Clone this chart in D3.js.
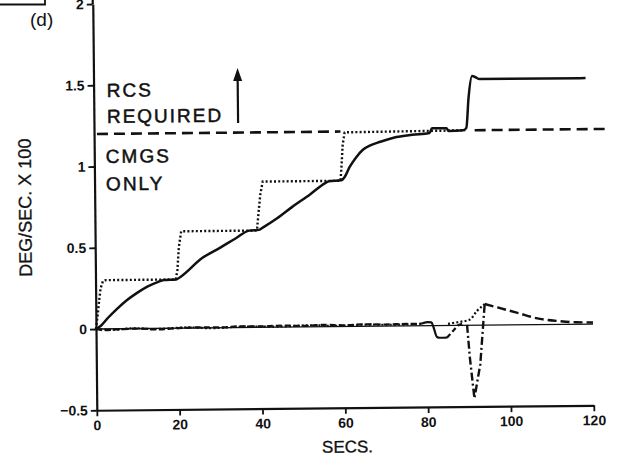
<!DOCTYPE html>
<html><head><meta charset="utf-8">
<script src="https://cdn.jsdelivr.net/npm/d3@7"></script>
<style>
body{margin:0;background:#fff}
svg{display:block;background:#fff}
text{font-family:"Liberation Sans",Arial,Helvetica,sans-serif;fill:#111}
</style>
</head><body>
<svg id="c" width="620" height="462"></svg>
<script>
// ---- data ----
const xTicks = [0, 20, 40, 60, 80, 100, 120];
const yTicks = [-0.5, 0, 0.5, 1, 1.5, 2];
const yTickLabels = ["\u22120.5", "0", "0.5", "1", "1.5", "2"];

// actual rate (solid)
const mainT = [0, 1.2, 3, 5, 7.5, 10, 12.5, 15, 16.5, 19.5, 20.5, 25.8, 30, 34, 37.2, 39.6, 40.6, 44, 47.6, 52, 55.7, 56.6, 59.6, 60.4, 61.6, 63.2, 64.8, 66.8, 68.9, 73, 76.8, 81, 81.6, 85.1, 85.6, 89.1, 89.9, 90.5, 91.4, 92.2, 93.2, 118.8];
const mainV = [0, 0.02, 0.07, 0.12, 0.175, 0.22, 0.258, 0.285, 0.297, 0.3, 0.315, 0.43, 0.49, 0.55, 0.596, 0.6, 0.615, 0.67, 0.738, 0.815, 0.884, 0.895, 0.9, 0.92, 0.98, 1.04, 1.085, 1.115, 1.133, 1.163, 1.176, 1.186, 1.214, 1.214, 1.197, 1.2, 1.215, 1.4, 1.534, 1.526, 1.515, 1.514];

// commanded rate steps (dotted)
const cmdT = [0, 0.4, 0.8, 1.2, 1.8, 2.5, 19.4, 19.8, 20.2, 20.8, 39.1, 39.5, 40.0, 40.6, 59.4, 59.7, 60.0, 60.5, 89.6];
const cmdV = [0, 0.08, 0.17, 0.25, 0.295, 0.3, 0.3, 0.36, 0.5, 0.596, 0.596, 0.7, 0.82, 0.897, 0.897, 1.0, 1.12, 1.195, 1.2];

// CMG limit line (dashed), two visible pieces
const limitV = 1.2;
const limitT1 = [0.7, 59.5];
const limitT2 = [91.9, 124.6];

// near-zero traces
const lowDashT = [0, 2, 5, 10, 15, 20, 25, 30, 35, 40, 45, 50, 55, 60, 65, 70, 75, 78.5];
const lowDashV = [0, -0.008, -0.004, 0, -0.006, 0, 0.004, 0.002, 0.008, 0.006, 0.01, 0.006, 0.012, 0.008, 0.012, 0.01, 0.012, 0.012];
const lowDotT = [0, 4, 9, 14, 22, 28, 36, 44, 52, 58, 64, 72, 79];
const lowDotV = [0, -0.006, 0.002, -0.004, 0.004, -0.002, 0.006, 0.004, 0.01, 0.004, 0.01, 0.008, 0.012];
const dipT = [78.5, 80, 81, 81.5, 82.3, 83, 84.7];
const dipV = [0.012, 0.022, 0.02, -0.01, -0.07, -0.075, -0.075];
const riseT = [84.7, 86, 87.4, 88.5];
const riseV = [-0.075, -0.04, 0, 0.01];
const accT = [85, 86.2, 88, 90.3, 92, 93.9];
const accV = [0.01, 0.015, 0.022, 0.035, 0.087, 0.13];
const spikeT = [89.6, 90.2, 91.2, 92.7, 93.9];
const spikeV = [0.003, -0.2, -0.45, -0.24, 0.13];
const decayT = [93.9, 97, 101.6, 107.2, 112, 116, 120];
const decayV = [0.13, 0.108, 0.075, 0.035, 0.02, 0.012, 0.01];

// ---- drawing ----
const svg = d3.select("#c");
const x = d3.scaleLinear().domain([0, 120]).range([96, 593]);
const y = d3.scaleLinear().domain([-0.5, 2]).range([410.25, 4]);
const line = d3.line().x(d => x(d[0])).y(d => y(d[1]));
const smooth = d3.line().x(d => x(d[0])).y(d => y(d[1])).curve(d3.curveMonotoneX);

// corner of the neighbouring panel + label
svg.append("path").attr("d", "M0,4.5H45V0").attr("fill", "none").attr("stroke", "#111").attr("stroke-width", 1.8);
svg.append("text").attr("x", 30).attr("y", 26).attr("font-size", 19).text("(d)");

const g = svg.append("g").attr("transform", "rotate(-0.57,96,329)");

// axes
const xAxis = d3.axisBottom(x).tickValues(xTicks).tickSize(6).tickSizeOuter(0).tickPadding(4);
const gx = g.append("g").attr("transform", `translate(0,${y(-0.5)})`).call(xAxis);
const yAxis = d3.axisLeft(y).tickValues(yTicks).tickFormat((d, i) => yTickLabels[i]).tickSize(6).tickSizeOuter(0).tickPadding(3);
const gy = g.append("g").attr("transform", `translate(${x(0)},0)`).call(yAxis);
[gx, gy].forEach(a => {
  a.select(".domain").attr("stroke", "#111").attr("stroke-width", 2.2);
  a.selectAll(".tick line").attr("stroke", "#111").attr("stroke-width", 1.8);
  a.selectAll(".tick text").attr("font-size", 14).attr("font-weight", "bold").attr("fill", "#111")
    .style("font-family", '"Liberation Sans",Arial,sans-serif');
});
g.append("line").attr("x1", x(0)).attr("x2", x(0)).attr("y1", y(2)).attr("y2", -4)
  .attr("stroke", "#111").attr("stroke-width", 2.2);

// zero reference line
g.append("path").datum([[0, 0], [120, 0]]).attr("d", line).attr("fill", "none").attr("stroke", "#111").attr("stroke-width", 1.3);

function draw(T, V, gen, dash, w) {
  g.append("path").datum(d3.zip(T, V)).attr("d", gen).attr("fill", "none")
    .attr("stroke", "#111").attr("stroke-width", w).attr("stroke-dasharray", dash)
    .attr("stroke-linejoin", "round");
}

// limit line
draw(limitT1, [limitV, limitV], line, "11,6", 2.6);
draw(limitT2, [limitV, limitV], line, "11,6", 2.6);
// commanded steps
draw(cmdT, cmdV, line, "2,2.2", 2.4);
// actual rate
draw(mainT, mainV, smooth, null, 2.5);
// near-zero traces
draw(lowDotT, lowDotV, smooth, "2,2.2", 2.2);
draw(lowDashT, lowDashV, smooth, "6,3", 2.2);
draw(dipT, dipV, smooth, null, 2.2);
draw(riseT, riseV, line, "5,3", 2.2);
draw(accT, accV, smooth, "2,2.2", 2.2);
draw(spikeT, spikeV, line, "8,3,2,3", 2.4);
draw(decayT, decayV, smooth, "9,4", 2.4);

// annotations
const ann = g.append("g").attr("font-size", 19).attr("letter-spacing", 2)
  .attr("stroke", "#111").attr("stroke-width", 0.5);
ann.append("text").attr("x", 109).attr("y", 97).text("RCS");
ann.append("text").attr("x", 109).attr("y", 123).text("REQUIRED");
ann.append("text").attr("x", 107.5).attr("y", 163).text("CMGS");
ann.append("text").attr("x", 107.5).attr("y", 190.5).text("ONLY");

const ax = x(34.8);
g.append("line").attr("x1", ax).attr("x2", ax).attr("y1", y(1.259)).attr("y2", y(1.53))
  .attr("stroke", "#111").attr("stroke-width", 2.2);
g.append("path").attr("d", `M${ax},${y(1.597)}L${ax - 4.5},${y(1.597) + 13}L${ax + 4.5},${y(1.597) + 13}Z`).attr("fill", "#111");

// axis titles
g.append("text").attr("x", 320.8).attr("y", 455).attr("font-size", 17).attr("stroke", "#111").attr("stroke-width", 0.3).text("SECS.");
g.append("text").attr("transform", "translate(32.5,207) rotate(-90)").attr("text-anchor", "middle")
  .attr("font-size", 18).attr("stroke", "#111").attr("stroke-width", 0.3).text("DEG/SEC. X 100");
</script>
</body></html>
